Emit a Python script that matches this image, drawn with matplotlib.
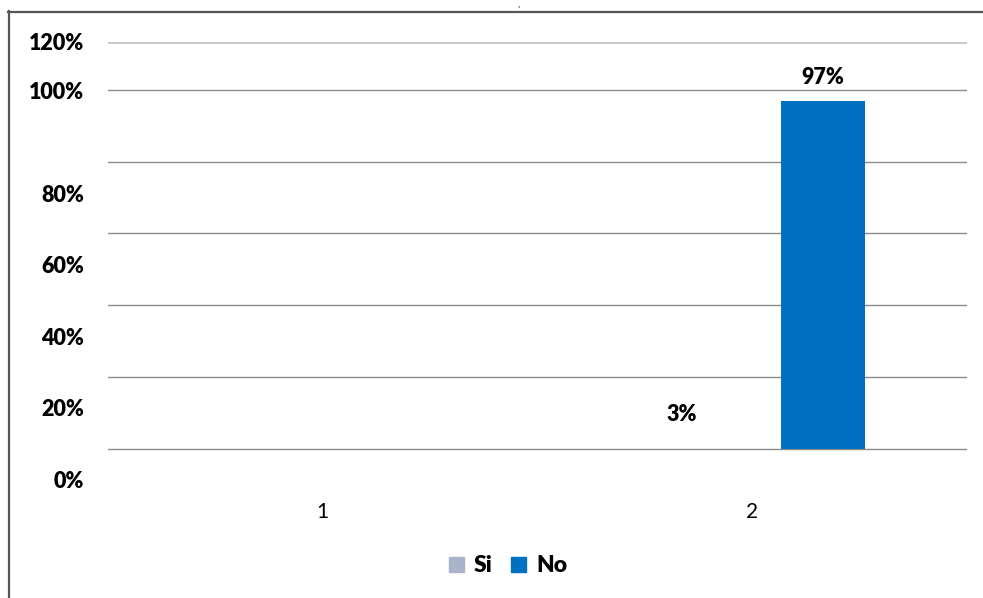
import matplotlib
matplotlib.use("Agg")
import matplotlib.pyplot as plt
from matplotlib.patches import Patch
from matplotlib.lines import Line2D

categories = ["1", "2"]
si_values = [0, 3]
no_values = [0, 97]
series_names = ["Si", "No"]
tick_labels = ["0%", "20%", "40%", "60%", "80%", "100%", "120%"]

W, H = 983, 598
fig = plt.figure(figsize=(W / 100, H / 100), dpi=100)

def px_to_data_y(y):
    return (448.5 - y) / 3.6

ax_l, ax_r, ax_t, ax_b = 108, 967, 42, 490
ax = fig.add_axes([ax_l / W, 1 - ax_b / H, (ax_r - ax_l) / W, (ax_b - ax_t) / H])
ax.set_xlim(-0.5, 1.5)
ax.set_ylim(px_to_data_y(ax_b), px_to_data_y(ax_t))
for s in ax.spines.values():
    s.set_visible(False)

font = "Lato"
si_color = "#A9B4CB"
no_color = "#0070C0"

# gridlines
for g in [0, 20, 40, 60, 80, 100]:
    ax.axhline(g, color="#8C8C8C", lw=1.0, zorder=1)
ax.axhline(px_to_data_y(42), color="#BFBFBF", lw=1.2, zorder=1)

x = list(range(len(categories)))
w = 0.196
off = 0.165
b_si = ax.bar([i - off for i in x], si_values, w, facecolor="none", edgecolor="none", zorder=2)
b_no = ax.bar([i + off for i in x], no_values, w, color=no_color, zorder=2)

lab_kw = dict(fontsize=15.5, fontweight="heavy", family=font)
ax.bar_label(b_si, labels=[f"{v}%" if v else "" for v in si_values], padding=9, **lab_kw)
ax.bar_label(b_no, labels=[f"{v}%" if v else "" for v in no_values], padding=9, **lab_kw)

ax.set_xticks(x)
ax.set_xticklabels(categories, fontsize=15, family=font)
ax.tick_params(axis="x", length=0, pad=9)

label_px = [479, 407.5, 336, 264, 192.5, 89, 40.5]
ax.set_yticks([px_to_data_y(p) for p in label_px])
ax.set_yticklabels(tick_labels, **lab_kw)
ax.tick_params(axis="y", length=0, pad=17)

handles = [Patch(color=si_color), Patch(color=no_color)]
fig.legend(handles, series_names, loc="center", bbox_to_anchor=(508 / W, 1 - 566 / H),
           ncol=2, frameon=False, handlelength=0.65, handleheight=0.65,
           handletextpad=0.45, columnspacing=0.8,
           prop={"family": font, "weight": "heavy", "size": 16.5})

# outer frame fragments
fig.add_artist(Line2D([8.5 / W, 8.5 / W], [0, 1 - 11 / H], color="#555555", lw=1.6,
                      transform=fig.transFigure))
fig.add_artist(Line2D([8 / W, 1], [1 - 11.5 / H, 1 - 11.5 / H], color="#555555", lw=1.6,
                      transform=fig.transFigure))
fig.text(519 / W, 1 - 1 / H, ",", fontsize=7, family=font, ha="center", va="top")

fig.savefig("out.png", dpi=100)
